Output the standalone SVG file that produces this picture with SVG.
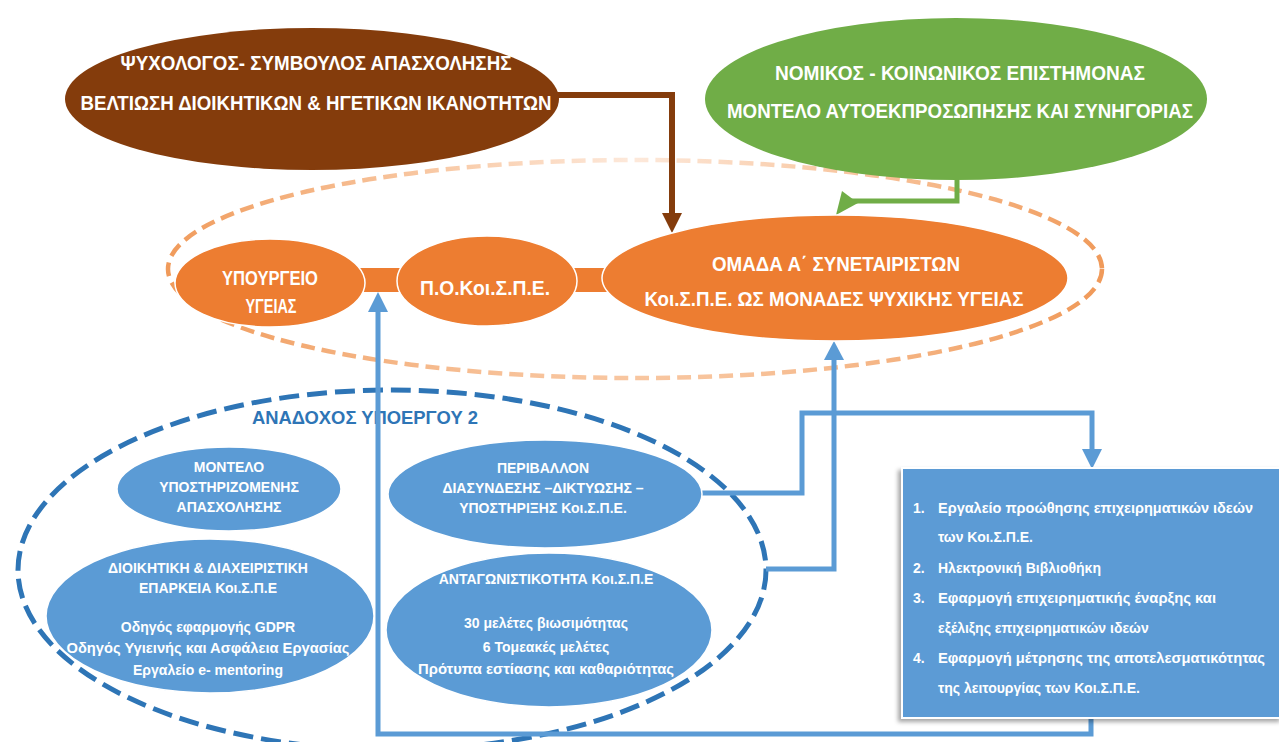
<svg xmlns="http://www.w3.org/2000/svg" width="1279" height="742" viewBox="0 0 1279 742">
<style>
.big{font-family:"Liberation Sans Narrow","Liberation Sans",Arial,sans-serif;font-size:20.5px;font-weight:bold;fill:#fff;text-anchor:middle}
.sm{font-family:"Liberation Sans",Arial,sans-serif;font-size:14px;font-weight:bold;fill:#fff;text-anchor:middle}
.lst{font-family:"Liberation Sans",Arial,sans-serif;font-size:14px;font-weight:bold;fill:#fff}
.org{fill:#ed7d31;stroke:#fff;stroke-width:1.5}
.bl{fill:#5b9bd5;stroke:#fff;stroke-width:1.5}
.bc{fill:none;stroke:#5b9bd5;stroke-width:5}
</style>
<defs>
<radialGradient id="og" gradientUnits="userSpaceOnUse" cx="634" cy="160" r="480">
<stop offset="0" stop-color="#fde9db"/>
<stop offset="0.45" stop-color="#f8c6a0"/>
<stop offset="1" stop-color="#f09a5a"/>
</radialGradient>
<filter id="sh" x="-10%" y="-10%" width="120%" height="120%">
<feDropShadow dx="-3" dy="3" stdDeviation="2" flood-color="#000" flood-opacity="0.35"/>
</filter>
</defs>

<g id="outer-orange-group">
<ellipse cx="635" cy="269" rx="467" ry="109" fill="none" stroke="url(#og)" stroke-width="4.5" stroke-dasharray="14 7"/>
</g>
<g id="outer-blue-group">
<ellipse cx="392" cy="570" rx="374" ry="180" fill="none" stroke="#2e75b6" stroke-width="5" stroke-dasharray="20 8"/>
<text x="365" y="424" font-family="Liberation Sans Narrow,Liberation Sans,Arial,sans-serif" font-size="18" font-weight="bold" fill="#2e75b6" text-anchor="middle" textLength="226" lengthAdjust="spacingAndGlyphs">ΑΝΑΔΟΧΟΣ ΥΠΟΕΡΓΟΥ 2</text>
</g>

<g id="connectors">
<rect x="360" y="268" width="42" height="24" fill="#ed7d31"/>
<rect x="574" y="268" width="36" height="24" fill="#ed7d31"/>
<polyline points="556,95 672,95 672,214" fill="none" stroke="#843c0c" stroke-width="6"/>
<polygon points="662,213 682,213 672,233" fill="#843c0c"/>
<polyline points="957,180 957,201 846,201" fill="none" stroke="#70ad47" stroke-width="5"/>
<polygon points="842,191 836,215 858,203" fill="#70ad47"/>
<polyline points="702,493 802,493 802,413 1092,413 1092,450" class="bc"/>
<polygon points="1082,449 1102,449 1092,469" fill="#5b9bd5"/>
<polyline points="766,569 834,569 834,358" class="bc"/>
<polygon points="824,360 844,360 834,341" fill="#5b9bd5"/>
<polyline points="1091,716 1091,734 378,734 378,310" class="bc"/>
<polygon points="368,312 388,312 378,292" fill="#5b9bd5"/>
</g>

<g id="psychologos">
<ellipse cx="312" cy="99" rx="247" ry="71" fill="#843c0c"/>
<text class="big" x="316" y="70" textLength="391" lengthAdjust="spacingAndGlyphs">ΨΥΧΟΛΟΓΟΣ- ΣΥΜΒΟΥΛΟΣ ΑΠΑΣΧΟΛΗΣΗΣ</text>
<text class="big" x="316" y="110" textLength="471" lengthAdjust="spacingAndGlyphs">ΒΕΛΤΙΩΣΗ ΔΙΟΙΚΗΤΙΚΩΝ &amp; ΗΓΕΤΙΚΩΝ ΙΚΑΝΟΤΗΤΩΝ</text>
</g>

<g id="nomikos">
<ellipse cx="956" cy="99" rx="251" ry="81" fill="#70ad47"/>
<text class="big" x="960" y="80" textLength="370" lengthAdjust="spacingAndGlyphs">ΝΟΜΙΚΟΣ - ΚΟΙΝΩΝΙΚΟΣ ΕΠΙΣΤΗΜΟΝΑΣ</text>
<text class="big" x="960" y="118" textLength="466" lengthAdjust="spacingAndGlyphs">ΜΟΝΤΕΛΟ ΑΥΤΟΕΚΠΡΟΣΩΠΗΣΗΣ ΚΑΙ ΣΥΝΗΓΟΡΙΑΣ</text>
</g>

<g id="ypourgeio">
<ellipse class="org" cx="270" cy="283" rx="95" ry="44"/>
<text class="big" x="270" y="285" textLength="96" lengthAdjust="spacingAndGlyphs">ΥΠΟΥΡΓΕΙΟ</text>
<text class="big" x="271" y="313" textLength="51" lengthAdjust="spacingAndGlyphs">ΥΓΕΙΑΣ</text>
</g>

<g id="pokoispe">
<ellipse class="org" cx="487" cy="281" rx="90" ry="45"/>
<text class="big" x="485" y="295" textLength="130" lengthAdjust="spacingAndGlyphs">Π.Ο.Κοι.Σ.Π.Ε.</text>
</g>

<g id="omada">
<ellipse class="org" cx="835" cy="278" rx="233" ry="63"/>
<text class="big" x="836" y="271" textLength="248" lengthAdjust="spacingAndGlyphs">ΟΜΑΔΑ Α΄ ΣΥΝΕΤΑΙΡΙΣΤΩΝ</text>
<text class="big" x="834" y="306" textLength="379" lengthAdjust="spacingAndGlyphs">Κοι.Σ.Π.Ε. ΩΣ ΜΟΝΑΔΕΣ ΨΥΧΙΚΗΣ ΥΓΕΙΑΣ</text>
</g>

<g id="montelo">
<ellipse class="bl" cx="229" cy="489" rx="112" ry="42"/>
<text class="sm" x="229" y="472">ΜΟΝΤΕΛΟ</text>
<text class="sm" x="229" y="492">ΥΠΟΣΤΗΡΙΖΟΜΕΝΗΣ</text>
<text class="sm" x="229" y="512">ΑΠΑΣΧΟΛΗΣΗΣ</text>
</g>

<g id="dioikitiki">
<ellipse class="bl" cx="210" cy="616" rx="164" ry="77"/>
<text class="sm" x="208" y="573">ΔΙΟΙΚΗΤΙΚΗ &amp; ΔΙΑΧΕΙΡΙΣΤΙΚΗ</text>
<text class="sm" x="208" y="593">ΕΠΑΡΚΕΙΑ Κοι.Σ.Π.Ε</text>
<text class="sm" x="208" y="632">Οδηγός εφαρμογής GDPR</text>
<text class="sm" x="208" y="653" textLength="283" lengthAdjust="spacingAndGlyphs">Οδηγός Υγιεινής και Ασφάλεια Εργασίας</text>
<text class="sm" x="208" y="675">Εργαλείο e- mentoring</text>
</g>

<g id="perivallon">
<ellipse class="bl" cx="545" cy="494" rx="157" ry="54"/>
<text class="sm" x="543" y="473">ΠΕΡΙΒΑΛΛΟΝ</text>
<text class="sm" x="543" y="493">ΔΙΑΣΥΝΔΕΣΗΣ –ΔΙΚΤΥΩΣΗΣ –</text>
<text class="sm" x="543" y="513">ΥΠΟΣΤΗΡΙΞΗΣ Κοι.Σ.Π.Ε.</text>
</g>

<g id="antagonistikotita">
<ellipse class="bl" cx="549" cy="630" rx="163" ry="77"/>
<text class="sm" x="546" y="584">ΑΝΤΑΓΩΝΙΣΤΙΚΟΤΗΤΑ Κοι.Σ.Π.Ε</text>
<text class="sm" x="546" y="628">30 μελέτες βιωσιμότητας</text>
<text class="sm" x="546" y="652">6 Τομεακές μελέτες</text>
<text class="sm" x="546" y="674" textLength="256" lengthAdjust="spacingAndGlyphs">Πρότυπα εστίασης και καθαριότητας</text>
</g>

<g id="list-box">
<rect x="902" y="468" width="380" height="250" fill="#5b9bd5" stroke="#fff" stroke-width="2" filter="url(#sh)"/>
<text class="lst" x="913" y="513">1.</text>
<text class="lst" x="938" y="513" textLength="315" lengthAdjust="spacingAndGlyphs">Εργαλείο προώθησης επιχειρηματικών ιδεών</text>
<text class="lst" x="938" y="542">των Κοι.Σ.Π.Ε.</text>
<text class="lst" x="913" y="573">2.</text>
<text class="lst" x="938" y="573">Ηλεκτρονική Βιβλιοθήκη</text>
<text class="lst" x="913" y="603">3.</text>
<text class="lst" x="938" y="603" textLength="278" lengthAdjust="spacingAndGlyphs">Εφαρμογή επιχειρηματικής έναρξης και</text>
<text class="lst" x="938" y="633">εξέλιξης επιχειρηματικών ιδεών</text>
<text class="lst" x="913" y="663">4.</text>
<text class="lst" x="938" y="663" textLength="327" lengthAdjust="spacingAndGlyphs">Εφαρμογή μέτρησης της αποτελεσματικότητας</text>
<text class="lst" x="938" y="693">της λειτουργίας των Κοι.Σ.Π.Ε.</text>
</g>
</svg>
